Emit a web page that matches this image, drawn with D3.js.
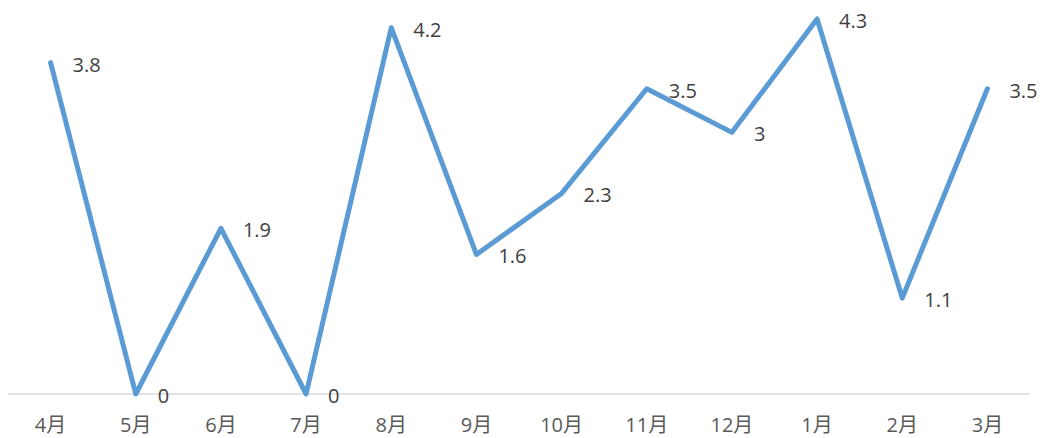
<!DOCTYPE html>
<html><head><meta charset="utf-8">
<script src="https://cdn.jsdelivr.net/npm/d3@7"></script>
<style>body{margin:0;background:#fff;}svg{display:block;}</style>
</head><body>
<svg id="c" width="1046" height="438"></svg>
<script>
const categories = ["4月","5月","6月","7月","8月","9月","10月","11月","12月","1月","2月","3月"];
const values = [3.8,0,1.9,0,4.2,1.6,2.3,3.5,3,4.3,1.1,3.5];
const labels = ["3.8","0","1.9","0","4.2","1.6","2.3","3.5","3","4.3","1.1","3.5"];

const svg = d3.select("#c");
const left = 8, right = 1030, baseY = 394, topY = 19;
const x = d3.scaleBand().domain(categories).range([left, right]);
const y = d3.scaleLinear().domain([0, 4.3]).range([baseY, topY]);
const font = "'Open Sans','Noto Sans CJK SC',sans-serif";

svg.append("line").attr("x1", left).attr("x2", right).attr("y1", baseY).attr("y2", baseY)
  .attr("stroke", "#d9d9d9").attr("stroke-width", 1.5);

const ax = svg.append("g").attr("transform", `translate(0,${baseY})`)
  .call(d3.axisBottom(x).tickSize(0).tickPadding(0));
ax.select(".domain").remove();
ax.selectAll("text").attr("y", 31).attr("dy", "0.35em")
  .attr("fill", "#595959").style("font-family", font).style("font-size", "20px");

const line = d3.line().x((d, i) => x(categories[i]) + x.bandwidth() / 2).y(d => y(d));
svg.append("path").datum(values).attr("d", line).attr("fill", "none")
  .attr("stroke", "#5b9bd5").attr("stroke-width", 5)
  .attr("stroke-linejoin", "round").attr("stroke-linecap", "round");

svg.append("g").selectAll("text").data(values).join("text")
  .attr("x", (d, i) => x(categories[i]) + x.bandwidth() / 2 + 22)
  .attr("y", d => y(d) + 2).attr("dy", "0.35em")
  .attr("fill", "#404040").style("font-family", font).style("font-size", "20px")
  .text((d, i) => labels[i]);
</script>
</body></html>
